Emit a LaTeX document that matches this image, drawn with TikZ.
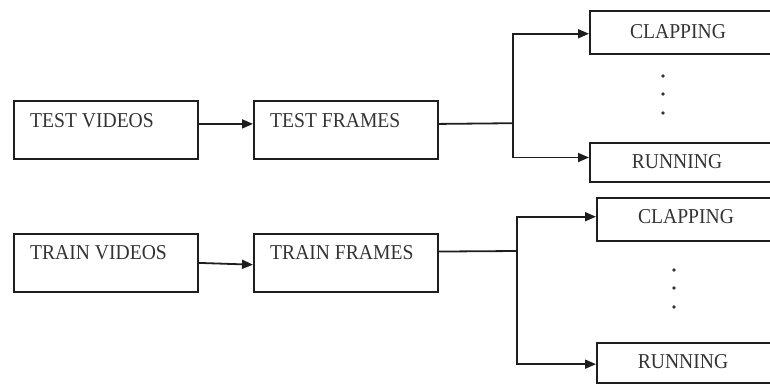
\documentclass[tikz,border=0pt]{standalone}
\usepackage{fontspec}
\setmainfont{Liberation Serif}
\usetikzlibrary{arrows.meta,calc}
\definecolor{inkline}{HTML}{1E1E1E}
\definecolor{inktext}{HTML}{333333}
\tikzset{
  box/.style={draw=inkline, line width=1.8pt, fill=white, inner sep=0pt, anchor=north west},
  lbl/.style={text=inktext, inner sep=0pt, font=\fontsize{19.6}{22}\selectfont},
  link/.style={draw=inkline, line width=1.8pt},
  arr/.style={link, -{Triangle[length=11pt,width=9pt]}},
  dot/.style={fill=inktext},
}
\begin{document}
\begin{tikzpicture}[x=1pt, y=-1pt]
  \useasboundingbox (0,0) rectangle (770,383);
  \clip (0,0) rectangle (770,383);

  % left-hand stage boxes
  \node[box, minimum width=184pt, minimum height=58pt] (tv) at (13,100) {};
  \node[box, minimum width=184pt, minimum height=58pt] (tf) at (253,100) {};
  \node[box, minimum width=184pt, minimum height=58pt] (rv) at (13,233) {};
  \node[box, minimum width=184pt, minimum height=58pt] (rf) at (253,233) {};

  \node[lbl, anchor=west] (tvl) at (30,120.5) {\scalebox{1}[1.08]{TEST VIDEOS}};
  \node[lbl, anchor=west] (tfl) at (270,120.5) {\scalebox{1}[1.08]{TEST FRAMES}};
  \node[lbl, anchor=west] (rvl) at (30,253) {\scalebox{1}[1.08]{TRAIN VIDEOS}};
  \node[lbl, anchor=west] (rfl) at (270,253) {\scalebox{1}[1.08]{TRAIN FRAMES}};

  % class boxes, running off the right edge
  \node[box, minimum width=220pt, minimum height=43pt] (c1) at (589,10) {};
  \node[box, minimum width=220pt, minimum height=39pt] (r1) at (589,142) {};
  \node[box, minimum width=220pt, minimum height=43pt] (c2) at (596,197) {};
  \node[box, minimum width=220pt, minimum height=40pt] (r2) at (596,342) {};

  \node[lbl] (c1l) at (678,32) {\scalebox{1}[1.08]{CLAPPING}};
  \node[lbl] (r1l) at (677,162) {\scalebox{1}[1.08]{RUNNING}};
  \node[lbl] (c2l) at (686,217) {\scalebox{1}[1.08]{CLAPPING}};
  \node[lbl] (r2l) at (683,362) {\scalebox{1}[1.08]{RUNNING}};

  % vertical ellipses between class boxes
  \fill[dot] (663,76) circle (1.8pt) (663,94) circle (1.8pt) (663,113) circle (1.8pt);
  \fill[dot] (674,270) circle (1.8pt) (674,288) circle (1.8pt) (674,307) circle (1.8pt);

  % videos -> frames
  \draw[arr] ($(tv.north east)!0.40!(tv.south east)$) -- ($(tf.north west)!0.40!(tf.south west)$);
  \draw[arr] ($(rv.north east)!0.50!(rv.south east)$) -- ($(rf.north west)!0.53!(rf.south west)$);

  % test frames -> classes
  \coordinate (j1) at (513,123.2);
  \draw[link] ($(tf.north east)!0.40!(tf.south east)$) -- (j1);
  \draw[arr] (j1) |- ($(c1.north west)!0.53!(c1.south west)$);
  \draw[arr] (j1) |- ($(r1.north west)!0.38!(r1.south west)$);

  % train frames -> classes
  \coordinate (j2) at (517,251);
  \draw[link] ($(rf.north east)!0.31!(rf.south east)$) -- (j2);
  \draw[arr] (j2) |- ($(c2.north west)!0.44!(c2.south west)$);
  \draw[arr] (j2) |- ($(r2.north west)!0.53!(r2.south west)$);
\end{tikzpicture}
\end{document}
